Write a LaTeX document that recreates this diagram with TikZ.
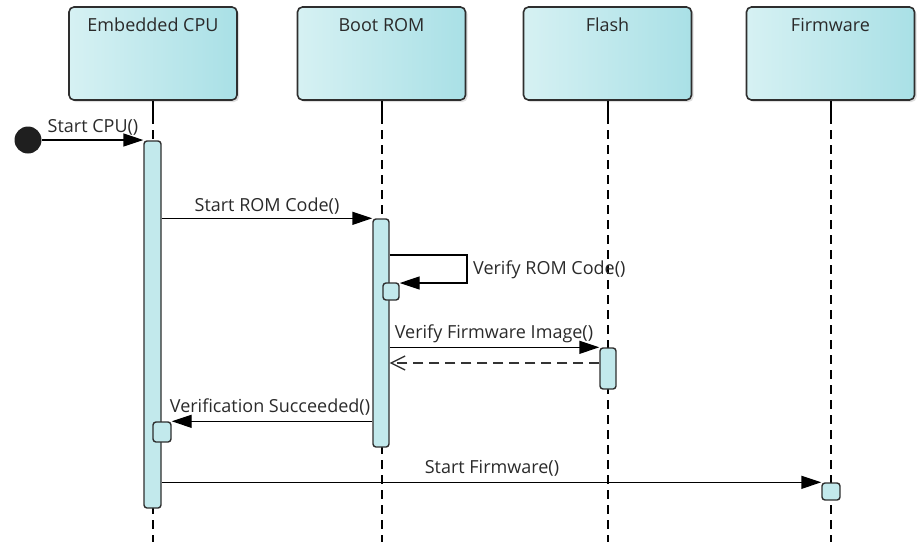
\documentclass[tikz,border=0pt]{standalone}
\usepackage{fontspec}
\setmainfont{Open Sans}
\usetikzlibrary{arrows.meta,shadows}
\definecolor{boxL}{HTML}{D6F1F3}
\definecolor{boxR}{HTML}{A9E0E6}
\definecolor{actfill}{HTML}{C2E9EC}
\definecolor{edge}{HTML}{2E2E2E}
\definecolor{txt}{HTML}{2A2A2A}
\tikzset{
  x=1pt, y=-1pt,
  every node/.style={font=\fontsize{18}{21}\selectfont, text=txt},
  objbox/.style={draw=edge, line width=1.6pt, rounded corners=5pt, left color=boxL, right color=boxR,
    minimum width=168pt, minimum height=93pt, inner sep=0pt,
    drop shadow={shadow xshift=2pt, shadow yshift=-2pt, opacity=0.25}},
  actbar/.style={draw=edge, line width=1.4pt, rounded corners=3pt, fill=actfill, inner sep=0pt},
  lifeline/.style={draw=black, line width=1.3pt, dash pattern=on 9pt off 6pt},
  lifetop/.style={draw=black, line width=1.3pt},
  msg/.style={draw=black, line width=1.4pt, -{Triangle[length=20pt,width=13pt]}},
  reply/.style={draw=black!80, line width=1.3pt, dash pattern=on 10pt off 6pt, -{Straight Barb[length=14pt,width=14pt]}},
  lbl/.style={inner sep=1pt},
  hdr/.style={anchor=center, yshift=-19pt}
}
\begin{document}
\begin{tikzpicture}
\useasboundingbox (0,0) rectangle (919,542);
% objects
\node[objbox, label={[name=cpulbl, hdr]north:Embedded CPU}] (cpu) at (153,53.5) {};
\node[objbox, label={[name=romlbl, hdr]north:Boot ROM}] (rom) at (381.5,53.5) {};
\node[objbox, label={[name=flashlbl, hdr]north:Flash}] (flash) at (607.5,53.5) {};
\node[objbox, label={[name=fwlbl, hdr]north:Firmware}] (fw) at (830.5,53.5) {};
% lifeline ends
\coordinate (cpuT) at (153,115);  \coordinate (cpuE) at (153,542);
\coordinate (romT) at (382,115);  \coordinate (romE) at (382,542);
\coordinate (flashT) at (608,115); \coordinate (flashE) at (608,542);
\coordinate (fwT) at (831,115);   \coordinate (fwE) at (831,542);
\draw[lifetop] (cpu.south -| cpuT) -- (cpuT);
\draw[lifetop] (rom.south -| romT) -- (romT);
\draw[lifetop] (flash.south -| flashT) -- (flashT);
\draw[lifetop] (fw.south -| fwT) -- (fwT);
\draw[lifeline] (cpuT) -- (cpuE);
\draw[lifeline] (romT) -- (romE);
\draw[lifeline] (flashT) -- (flashE);
\draw[lifeline] (fwT) -- (fwE);
% activations
\node[actbar, minimum width=17pt, minimum height=367pt] (cpuact) at (152.5,324.5) {};
\node[actbar, minimum width=16pt, minimum height=228pt] (romact) at (381,333) {};
\node[actbar, minimum width=16pt, minimum height=17pt] (romself) at (391,291.5) {};
\node[actbar, minimum width=16pt, minimum height=41pt] (flashact) at (608,368.5) {};
\node[actbar, minimum width=18pt, minimum height=20pt] (cpuself) at (162,432) {};
\node[actbar, minimum width=18pt, minimum height=17pt] (fwact) at (831,491.5) {};
% start
\node[circle, fill=black!88, minimum size=27pt, inner sep=0pt] (start) at (28,140) {};
% messages
\draw[msg] (start.east) -- (start.east -| cpuact.west);
\node[lbl] (l1) at (93,127) {Start CPU()};
\draw[msg] (cpuact.east |- romact.north) -- (romact.north west);
\node[lbl] (l2) at (267,206) {Start ROM Code()};
\coordinate (selfA) at (467,255);
\coordinate (selfB) at (467,283);
\draw[msg] (romact.east |- selfA) -- (selfA) -- (selfB) -- (romself.east |- selfB);
\node[lbl, anchor=west] (l3) at (472,270) {Verify ROM Code()};
\draw[msg] (romact.east |- flashact.north) -- (flashact.north west);
\node[lbl] (l4) at (494,334) {Verify Firmware Image()};
\coordinate (ret) at (600,363);
\draw[reply] (flashact.west |- ret) -- (romact.east |- ret);
\draw[msg] (romact.west |- cpuself.north) -- (cpuself.north east);
\node[lbl] (l5) at (270,407) {Verification Succeeded()};
\draw[msg] (cpuact.east |- fwact.north) -- (fwact.north west);
\node[lbl] (l6) at (492,468) {Start Firmware()};
\end{tikzpicture}
\end{document}
